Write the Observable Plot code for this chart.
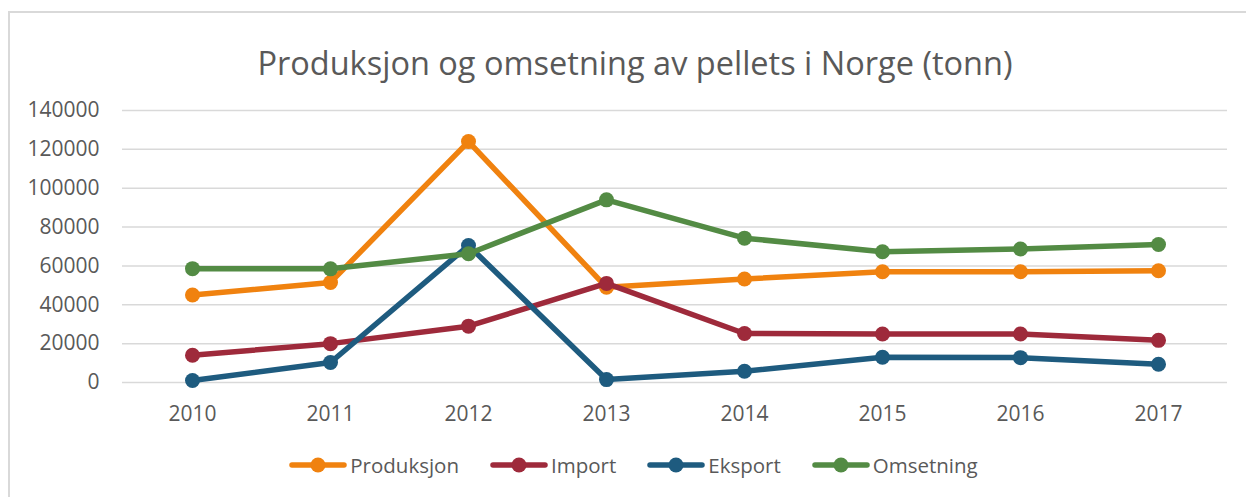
<!DOCTYPE html>
<html><head><meta charset="utf-8">
<script src="https://cdn.jsdelivr.net/npm/d3@7"></script>
<script src="https://cdn.jsdelivr.net/npm/@observablehq/plot@0.6"></script>
<style>
html,body{margin:0;padding:0;background:#fff;overflow:hidden;}
body{font-family:"Open Sans",sans-serif;width:1246px;height:497px;position:relative;}
#frame{position:absolute;left:8px;top:11px;width:1300px;height:600px;border-left:2px solid #d9d9d9;border-top:2px solid #d9d9d9;}
#title{position:absolute;left:0;width:1270px;top:40px;text-align:center;font-size:32.5px;color:#595959;white-space:nowrap;}
#chart{position:absolute;left:0;top:0;}
#legend{position:absolute;top:451px;left:0;width:1267px;display:flex;justify-content:center;gap:31px;font-size:20.5px;color:#595959;}
.item{display:flex;align-items:center;}
.item svg{margin-right:3px;}
</style>
</head><body>
<div id="frame"></div>
<div id="chart"></div>
<div id="title">Produksjon og omsetning av pellets i Norge (tonn)</div>
<div id="legend"></div>
<script>
const years = ["2010","2011","2012","2013","2014","2015","2016","2017"];
const seriesNames = ["Produksjon","Import","Eksport","Omsetning"];
const seriesColors = ["#F0820F","#9E2A3B","#1E5B7F","#538B44"];
const produksjon = [45000, 51500, 124000, 49000, 53300, 57000, 57000, 57500];
const importVals = [14000, 20000, 29000, 51000, 25200, 25000, 25000, 21700];
const eksport = [1000, 10300, 70500, 1500, 5800, 13000, 12800, 9400];
const omsetning = [58600, 58500, 66300, 94000, 74300, 67300, 68700, 71000];
const yTicks = [0,20000,40000,60000,80000,100000,120000,140000];

const valuesBySeries = [produksjon, importVals, eksport, omsetning];
const data = [];
seriesNames.forEach((s,i)=>valuesBySeries[i].forEach((v,j)=>data.push({year:years[j], series:s, value:v})));

const seriesMarks = seriesNames.flatMap(s => {
  const d = data.filter(e => e.series === s);
  return [
    Plot.line(d, {x:"year", y:"value", stroke:"series", strokeWidth:5.5, strokeLinejoin:"round", strokeLinecap:"round"}),
    Plot.dot(d, {x:"year", y:"value", fill:"series", r:7.5, stroke:null})
  ];
});

const chart = Plot.plot({
  width:1246, height:440,
  marginLeft:122, marginRight:19, marginTop:110, marginBottom:58,
  style:{fontFamily:"'Open Sans',sans-serif", fontSize:"21px", color:"#595959", background:"transparent", overflow:"visible"},
  x:{type:"point", domain:years, padding:0.5, label:null},
  y:{domain:[0,140000], label:null},
  color:{domain:seriesNames, range:seriesColors},
  marks:[
    Plot.ruleY(yTicks, {stroke:"#d9d9d9", strokeWidth:1.5}),
    Plot.axisY(yTicks, {tickSize:0, tickPadding:23, tickFormat:d3.format("d"), label:null}),
    Plot.axisX({tickSize:0, tickPadding:24, label:null}),
    ...seriesMarks
  ]
});
document.getElementById("chart").appendChild(chart);

const legend = document.getElementById("legend");
seriesNames.forEach((s,i)=>{
  const item = document.createElement("div");
  item.className = "item";
  item.innerHTML = `<svg width="58" height="20"><line x1="3" x2="55" y1="10" y2="10" stroke="${seriesColors[i]}" stroke-width="5.5" stroke-linecap="round"/><circle cx="29" cy="10" r="7.5" fill="${seriesColors[i]}"/></svg><span>${s}</span>`;
  legend.appendChild(item);
});
</script>
</body></html>
